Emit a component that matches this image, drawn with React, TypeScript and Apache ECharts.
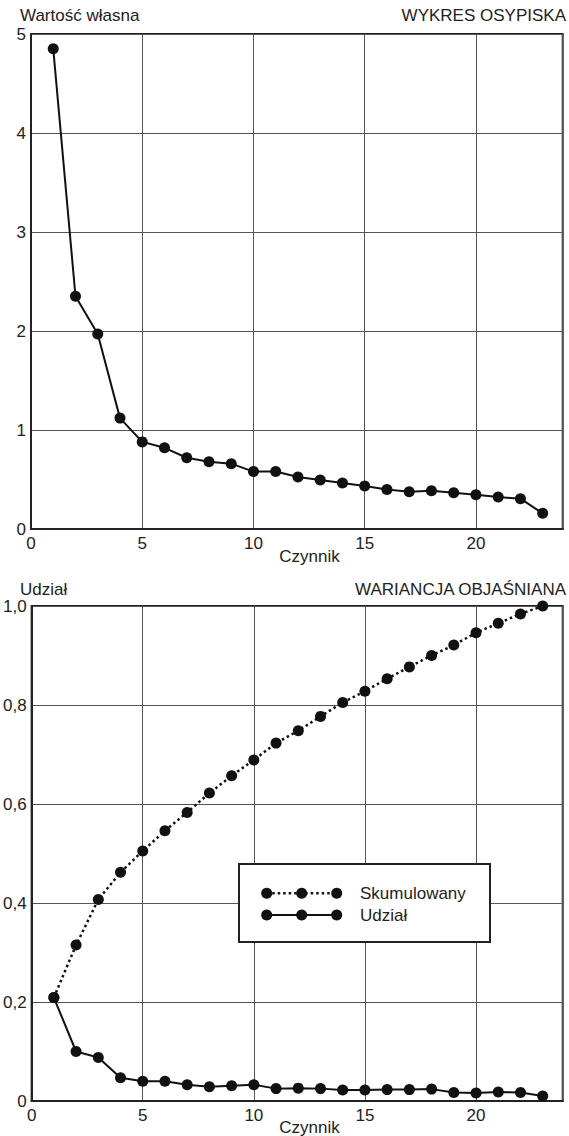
import React, { useEffect, useRef } from "react";
import * as echarts from "echarts";

const factors = [1, 2, 3, 4, 5, 6, 7, 8, 9, 10, 11, 12, 13, 14, 15, 16, 17, 18, 19, 20, 21, 22, 23];
const eigenvalues = [4.85, 2.35, 1.97, 1.12, 0.88, 0.82, 0.72, 0.68, 0.66, 0.58, 0.58, 0.525, 0.495, 0.465, 0.435, 0.4, 0.377, 0.387, 0.367, 0.347, 0.323, 0.306, 0.158];
const cumulative = [0.209, 0.315, 0.407, 0.462, 0.505, 0.546, 0.583, 0.622, 0.657, 0.689, 0.723, 0.748, 0.777, 0.805, 0.828, 0.853, 0.877, 0.9, 0.921, 0.946, 0.965, 0.984, 1.0];
const share = [0.209, 0.1, 0.088, 0.047, 0.04, 0.04, 0.033, 0.029, 0.031, 0.033, 0.025, 0.026, 0.025, 0.022, 0.022, 0.023, 0.023, 0.024, 0.017, 0.016, 0.018, 0.017, 0.01];

const topTitleLeft = "Wartość własna";
const topTitleRight = "WYKRES OSYPISKA";
const bottomTitleLeft = "Udział";
const bottomTitleRight = "WARIANCJA OBJAŚNIANA";
const xName = "Czynnik";
const legendNames = ["Skumulowany", "Udział"];

const FONT = "'Liberation Sans', Arial, sans-serif";
const FS = 17;
const TXT = "#222";

export default function App() {
  const ref = useRef<HTMLDivElement>(null);
  useEffect(() => {
    if (!ref.current) return;
    const chart = echarts.init(ref.current, null, { renderer: "svg" });
    const gl = 31, gw = 531.7;
    const xAxisBase = (gi: number) => ({
      type: "value",
      gridIndex: gi,
      min: 0,
      max: 23.9,
      interval: 5,
      axisLine: { show: true, lineStyle: { color: "#222", width: 2 } },
      axisTick: { show: false },
      axisLabel: {
        color: TXT,
        fontFamily: FONT,
        fontSize: FS,
        margin: 6,
        formatter: (v: number) => (Math.abs(v % 5) < 1e-6 ? String(v) : ""),
      },
      splitLine: { show: true, lineStyle: { color: "#555", width: 1 } },
    });
    const zip = (ys: number[]) => factors.map((x, i) => [x, ys[i]]);
    const legendG = (rowY: number, dotted: boolean, label: string) => [
      {
        type: "line",
        shape: { x1: 266.7, y1: rowY, x2: 336.7, y2: rowY },
        style: dotted
          ? { stroke: "#111", lineWidth: 2.5, lineDash: [2.5, 3] }
          : { stroke: "#111", lineWidth: 2 },
        z: 101,
      },
      ...[266.7, 301.7, 336.7].map((cx) => ({
        type: "circle",
        shape: { cx, cy: rowY, r: 5.5 },
        style: { fill: "#111" },
        z: 102,
      })),
      {
        type: "text",
        x: 360,
        y: rowY,
        style: { text: label, font: `${FS}px ${FONT}`, fill: TXT, textVerticalAlign: "middle", textAlign: "left" },
        z: 102,
      },
    ];
    const txt = (text: string, x: number, y: number, align: string) => ({
      type: "text",
      x,
      y,
      style: { text, font: `${FS}px ${FONT}`, fill: TXT, textAlign: align, textVerticalAlign: "middle" },
    });
    chart.setOption({
      animation: false,
      backgroundColor: "#fff",
      grid: [
        { left: gl, top: 34, width: gw, height: 495, show: true, borderColor: "#222", borderWidth: 2 },
        { left: gl, top: 606, width: gw, height: 495, show: true, borderColor: "#222", borderWidth: 2 },
      ],
      xAxis: [xAxisBase(0), xAxisBase(1)],
      yAxis: [
        {
          type: "value",
          gridIndex: 0,
          min: 0,
          max: 5,
          interval: 1,
          axisLine: { show: true, lineStyle: { color: "#222", width: 2 } },
          axisTick: { show: false },
          axisLabel: { color: TXT, fontFamily: FONT, fontSize: FS, margin: 5 },
          splitLine: { show: true, lineStyle: { color: "#555", width: 1 } },
        },
        {
          type: "value",
          gridIndex: 1,
          min: 0,
          max: 1,
          interval: 0.2,
          axisLine: { show: true, lineStyle: { color: "#222", width: 2 } },
          axisTick: { show: false },
          axisLabel: {
            color: TXT,
            fontFamily: FONT,
            fontSize: FS,
            margin: 5,
            formatter: (v: number) => (v === 0 ? "0" : v.toFixed(1).replace(".", ",")),
          },
          splitLine: { show: true, lineStyle: { color: "#555", width: 1 } },
        },
      ],
      series: [
        {
          type: "line",
          xAxisIndex: 0,
          yAxisIndex: 0,
          data: zip(eigenvalues),
          symbol: "circle",
          symbolSize: 11,
          itemStyle: { color: "#111" },
          lineStyle: { color: "#111", width: 2 },
        },
        {
          name: legendNames[0],
          type: "line",
          xAxisIndex: 1,
          yAxisIndex: 1,
          data: zip(cumulative),
          symbol: "circle",
          symbolSize: 11,
          itemStyle: { color: "#111" },
          lineStyle: { color: "#111", width: 2.5, type: [2.5, 3] },
        },
        {
          name: legendNames[1],
          type: "line",
          xAxisIndex: 1,
          yAxisIndex: 1,
          data: zip(share),
          symbol: "circle",
          symbolSize: 11,
          itemStyle: { color: "#111" },
          lineStyle: { color: "#111", width: 2 },
        },
      ],
      graphic: [
        txt(topTitleLeft, 20, 15, "left"),
        txt(topTitleRight, 566, 15, "right"),
        txt(bottomTitleLeft, 20, 589, "left"),
        txt(bottomTitleRight, 566, 589, "right"),
        txt(xName, 309.5, 556.5, "center"),
        txt(xName, 309.5, 1127, "center"),
        {
          type: "rect",
          shape: { x: 239, y: 864, width: 251, height: 78 },
          style: { fill: "#fff", stroke: "#222", lineWidth: 2 },
          z: 100,
        },
        ...legendG(893.3, true, legendNames[0]),
        ...legendG(915, false, legendNames[1]),
      ],
    });
    return () => chart.dispose();
  }, []);
  return (
    <div
      ref={ref}
      style={{ position: "fixed", left: 0, top: 0, width: 569, height: 1136, background: "#fff" }}
    />
  );
}
